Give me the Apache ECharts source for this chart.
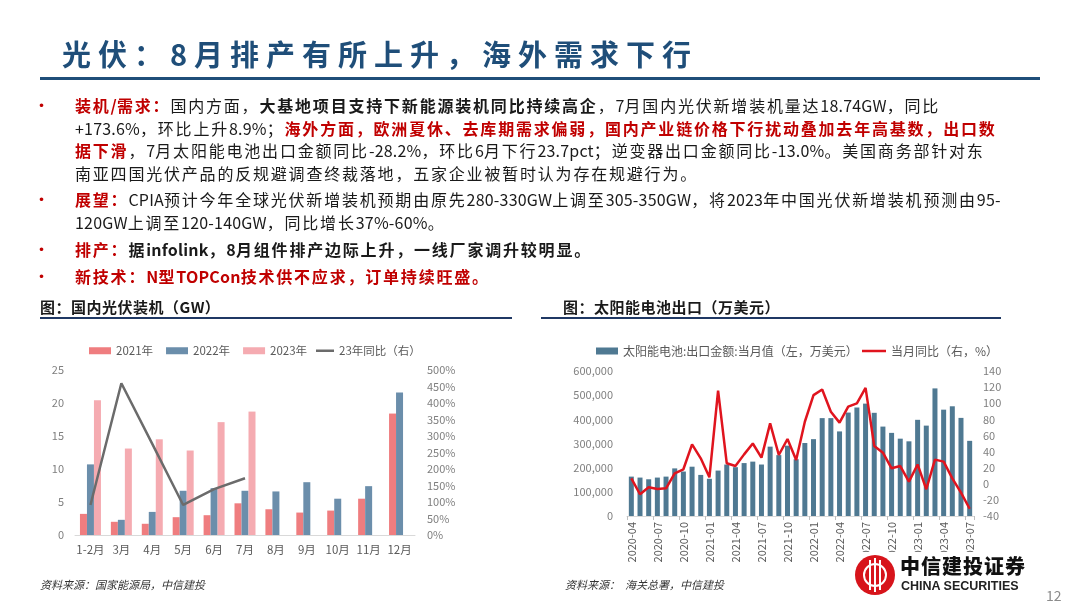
<!DOCTYPE html>
<html>
<head>
<meta charset="utf-8">
<script src="https://cdn.jsdelivr.net/npm/echarts@6/dist/echarts.min.js"></script>
<style>
  html, body { margin:0; padding:0; width:1080px; height:608px; background:#fff; overflow:hidden; }
  body { position:relative; font-family:"Noto Sans CJK SC","Noto Sans",sans-serif; }
  .abs { position:absolute; white-space:nowrap; }
  #chart { position:absolute; left:0; top:0; width:1080px; height:608px; }
  .title { left:62px; top:33px; font-size:29px; font-weight:700; color:#1f4e79; letter-spacing:7px; line-height:40px; }
  .rule { background:#1f4e79; }
  .ln { left:75px; font-size:16px; letter-spacing:1.8px; line-height:22px; color:#1a1a1a; }
  .ln .a { letter-spacing:0.2px; }
  .bul { left:33px; font-size:17px; line-height:22px; color:#c00000; }
  .r { color:#c00000; font-weight:700; }
  .b { font-weight:700; }
  .ct { font-size:15px; font-weight:700; color:#1a1a1a; line-height:20px; letter-spacing:0.5px; }
  .src { font-size:11px; font-style:italic; color:#333; line-height:14px; }
</style>
</head>
<body>
<div id="chart"></div>

<div class="abs title">光伏：8月排产有所上升，海外需求下行</div>
<div class="abs rule" style="left:40px;top:77px;width:1000px;height:3px;"></div>

<div class="abs bul" style="top:94px;">•</div>
<div class="abs ln" style="top:94px;"><span class="r">装机/需求：</span>国内方面，<span class="b">大基地项目支持下新能源装机同比持续高企</span>，7月国内光伏新增装机量达18.74GW，同比</div>
<div class="abs ln" style="top:117px;">+173.6%，环比上升8.9%；<span class="r">海外方面，欧洲夏休、去库期需求偏弱，国内产业链价格下行扰动叠加去年高基数，出口数</span></div>
<div class="abs ln" style="top:139px;"><span class="r">据下滑</span>，7月太阳能电池出口金额同比-28.2%，环比6月下行23.7pct；逆变器出口金额同比-13.0%。美国商务部针对东</div>
<div class="abs ln" style="top:162px;">南亚四国光伏产品的反规避调查终裁落地，五家企业被暂时认为存在规避行为。</div>

<div class="abs bul" style="top:188px;">•</div>
<div class="abs ln" style="top:188px;"><span class="r">展望：</span>CPIA预计今年全球光伏新增装机预期由原先280-330GW上调至305-350GW，将2023年中国光伏新增装机预测由95-</div>
<div class="abs ln" style="top:211px;">120GW上调至120-140GW，同比增长37%-60%。</div>

<div class="abs bul" style="top:238px;">•</div>
<div class="abs ln" style="top:238px;"><span class="r">排产：</span><span class="b">据infolink，8月组件排产边际上升，一线厂家调升较明显。</span></div>

<div class="abs bul" style="top:265px;">•</div>
<div class="abs ln" style="top:265px;"><span class="r">新技术：N型TOPCon技术供不应求，订单持续旺盛。</span></div>

<div class="abs ct" style="left:40px;top:297px;">图：国内光伏装机（GW）</div>
<div class="abs rule" style="left:40px;top:317px;width:472px;height:2px;background:#1f3864;"></div>
<div class="abs ct" style="left:563px;top:297px;">图：太阳能电池出口（万美元）</div>
<div class="abs rule" style="left:541px;top:317px;width:460px;height:2px;background:#1f3864;"></div>

<div class="abs src" style="left:40px;top:577px;">资料来源：国家能源局，中信建投</div>
<div class="abs src" style="left:565px;top:577px;">资料来源：&nbsp;&nbsp;海关总署，中信建投</div>

<div class="abs" style="left:850px;top:552px;width:185px;height:48px;background:#fff;">
  <div class="abs" style="left:5px;top:3px;width:40px;height:40px;border-radius:50%;background:#d7141b;"></div>
  <div class="abs" style="left:13px;top:11px;width:24px;height:24px;border-radius:50%;border:2px solid #fff;box-sizing:border-box;"></div>
  <div class="abs" style="left:19px;top:8px;width:2px;height:30px;background:#fff;"></div>
  <div class="abs" style="left:24px;top:6px;width:2px;height:34px;background:#fff;"></div>
  <div class="abs" style="left:29px;top:8px;width:2px;height:30px;background:#fff;"></div>
  <div class="abs" style="left:50px;top:2px;font-size:20px;font-weight:900;color:#111;letter-spacing:1px;line-height:24px;font-family:'Noto Sans CJK SC',serif;">中信建投证券</div>
  <div class="abs" style="left:51px;top:26px;font-size:12.5px;font-weight:700;color:#222;line-height:16px;font-family:'Liberation Sans',Arial,sans-serif;">CHINA SECURITIES</div>
</div>
<div class="abs" style="left:1046px;top:587px;font-size:14px;color:#8c8c8c;line-height:16px;">12</div>

<script>
// narrower spacing for half-width (ASCII) runs in the bullet text
document.querySelectorAll('.ln').forEach(el => {
  const walker = document.createTreeWalker(el, NodeFilter.SHOW_TEXT);
  const nodes = [];
  while (walker.nextNode()) nodes.push(walker.currentNode);
  nodes.forEach(n => {
    const parts = n.nodeValue.split(/([\x21-\x7e]+)/);
    if (parts.length < 2) return;
    const frag = document.createDocumentFragment();
    parts.forEach((p, i) => {
      if (!p) return;
      if (i % 2 === 1) { const s = document.createElement('span'); s.className = 'a'; s.textContent = p; frag.appendChild(s); }
      else frag.appendChild(document.createTextNode(p));
    });
    n.parentNode.replaceChild(frag, n);
  });
});

// ---------- Left chart data (GW) ----------
const installCategories = ['1-2月','3月','4月','5月','6月','7月','8月','9月','10月','11月','12月'];
const install2021 = [3.2, 2.0, 1.7, 2.7, 3.0, 4.8, 3.9, 3.4, 3.7, 5.5, 18.4];
const install2022 = [10.7, 2.3, 3.5, 6.7, 7.1, 6.7, 6.6, 8.0, 5.5, 7.4, 21.6];
const install2023 = [20.4, 13.1, 14.5, 12.8, 17.1, 18.7, null, null, null, null, null];
const yoy2023 = [91, 460, 276, 91, 139, 172, null, null, null, null, null];
const installLeftTicks = { min: 0, max: 25, interval: 5 };
const installRightTicks = { min: 0, max: 500, interval: 50 };

// ---------- Right chart data (万美元, %) ----------
const exportMonths = ['2020-04','2020-05','2020-06','2020-07','2020-08','2020-09','2020-10','2020-11','2020-12',
  '2021-01','2021-02','2021-03','2021-04','2021-05','2021-06','2021-07','2021-08','2021-09','2021-10','2021-11','2021-12',
  '2022-01','2022-02','2022-03','2022-04','2022-05','2022-06','2022-07','2022-08','2022-09','2022-10','2022-11','2022-12',
  '2023-01','2023-02','2023-03','2023-04','2023-05','2023-06','2023-07'];
const exportValue = [163000,159000,152000,159000,163000,197000,184000,204000,170000,
  154000,188000,213000,202000,219000,225000,213000,287000,252000,291000,235000,302000,
  318000,405000,405000,350000,428000,449000,465000,427000,370000,344000,320000,309000,
  398000,374000,528000,440000,454000,406000,311000];
const exportYoy = [6.8,-13,-4.4,-6.4,-5.6,13,18,49,31.6,
  8,115.6,25.4,22,36.5,50,32.4,75,35.7,55.6,29.5,77,
  110,117,89.5,75.9,95.7,99.8,119,47,38.6,19.2,22,2.6,
  24,-6.8,30,27.5,6.8,-11,-31];
const exportLeftTicks = { min: 0, max: 600000, interval: 100000 };
const exportRightTicks = { min: -40, max: 140, interval: 20 };

const axisGray = '#7f7f7f';
const legendText = { fontSize: 11.5, color: '#595959' };
const chart = echarts.init(document.getElementById('chart'), null, { renderer: 'canvas' });

const option = {
  animation: false,
  textStyle: { fontFamily: '"Noto Sans CJK SC", "Noto Sans", sans-serif' },
  legend: [
    { left: 84, top: 340, itemWidth: 22, itemHeight: 7, itemGap: 13, icon: 'rect',
      textStyle: legendText, data: ['2021年', '2022年', '2023年'] },
    { left: 311, top: 340, itemWidth: 18, itemHeight: 2.5, icon: 'rect',
      textStyle: legendText, data: ['23年同比（右）'] },
    { left: 591, top: 340, itemWidth: 22, itemHeight: 7, icon: 'rect',
      textStyle: { fontSize: 12, color: '#595959' }, data: ['太阳能电池:出口金额:当月值（左，万美元）'] },
    { left: 857, top: 340, itemWidth: 24, itemHeight: 2.5, icon: 'rect',
      textStyle: { fontSize: 12, color: '#595959' }, data: ['当月同比（右，%）'] }
  ],
  grid: [
    { left: 75, top: 370, width: 340, height: 165 },
    { left: 627, top: 371, width: 347, height: 145 }
  ],
  xAxis: [
    {
      gridIndex: 0, type: 'category', data: installCategories,
      axisLine: { lineStyle: { color: '#d9d9d9' } },
      axisTick: { show: false },
      axisLabel: { color: '#595959', fontSize: 11.5, margin: 9, interval: 0 }
    },
    {
      gridIndex: 1, type: 'category', data: exportMonths,
      axisLine: { lineStyle: { color: '#d9d9d9' } },
      axisTick: { show: true, interval: 2, length: 4, lineStyle: { color: '#bfbfbf' } },
      axisLabel: { color: '#595959', fontSize: 11, rotate: 90, interval: 2, margin: 6 }
    }
  ],
  yAxis: [
    {
      gridIndex: 0, type: 'value', ...installLeftTicks,
      splitLine: { show: false }, axisLine: { show: false }, axisTick: { show: false },
      axisLabel: { color: axisGray, fontSize: 11, margin: 11 }
    },
    {
      gridIndex: 0, type: 'value', position: 'right', ...installRightTicks,
      splitLine: { show: false }, axisLine: { show: false }, axisTick: { show: false },
      axisLabel: { color: axisGray, fontSize: 11, margin: 12, formatter: '{value}%' }
    },
    {
      gridIndex: 1, type: 'value', ...exportLeftTicks,
      splitLine: { show: false }, axisLine: { show: false }, axisTick: { show: false },
      axisLabel: { color: axisGray, fontSize: 11, margin: 14,
        formatter: v => v.toLocaleString('en-US') }
    },
    {
      gridIndex: 1, type: 'value', position: 'right', ...exportRightTicks,
      splitLine: { show: false }, axisLine: { show: false }, axisTick: { show: false },
      axisLabel: { color: axisGray, fontSize: 11, margin: 9 }
    }
  ],
  series: [
    { name: '2021年', type: 'bar', xAxisIndex: 0, yAxisIndex: 0, data: install2021,
      barWidth: 7, barGap: '0%', itemStyle: { color: '#ef7d7f' } },
    { name: '2022年', type: 'bar', xAxisIndex: 0, yAxisIndex: 0, data: install2022,
      barWidth: 7, barGap: '0%', itemStyle: { color: '#6b8eab' } },
    { name: '2023年', type: 'bar', xAxisIndex: 0, yAxisIndex: 0, data: install2023,
      barWidth: 7, barGap: '0%', itemStyle: { color: '#f5abb1' } },
    { name: '23年同比（右）', type: 'line', xAxisIndex: 0, yAxisIndex: 1, data: yoy2023,
      symbol: 'none', lineStyle: { color: '#6b6b6b', width: 2.5 }, itemStyle: { color: '#6b6b6b' } },
    { name: '太阳能电池:出口金额:当月值（左，万美元）', type: 'bar', xAxisIndex: 1, yAxisIndex: 2,
      data: exportValue, barWidth: 5, itemStyle: { color: '#4f7992' } },
    { name: '当月同比（右，%）', type: 'line', xAxisIndex: 1, yAxisIndex: 3, data: exportYoy,
      symbol: 'none', lineStyle: { color: '#e0141e', width: 2.5 }, itemStyle: { color: '#e0141e' } }
  ]
};
chart.setOption(option);
</script>
</body>
</html>
